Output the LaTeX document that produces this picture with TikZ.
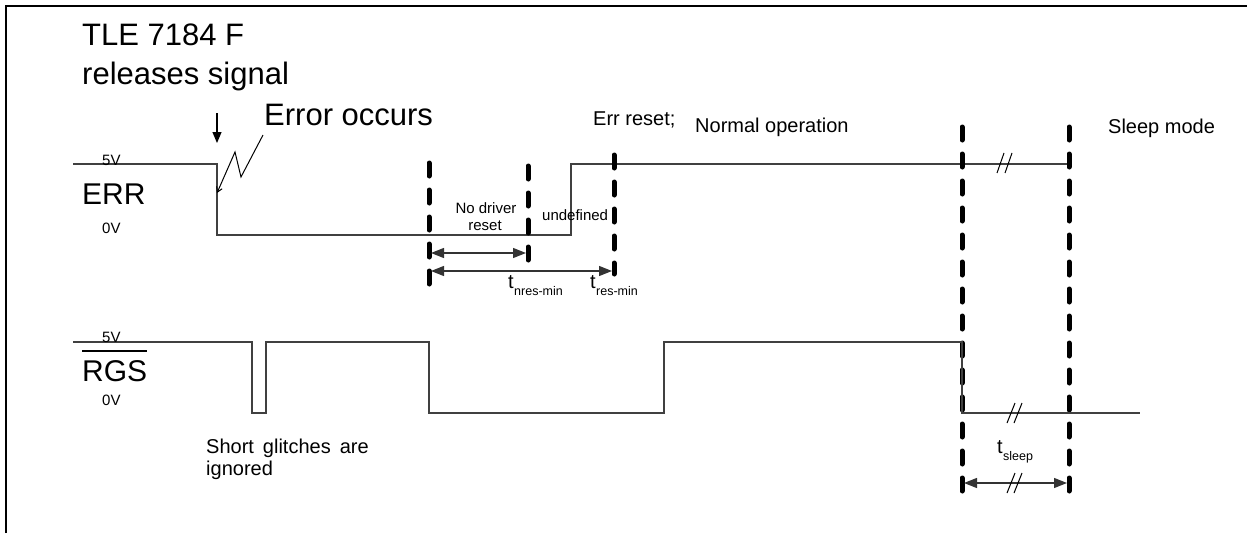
\documentclass[tikz,border=0pt]{standalone}
\usepackage{fontspec}
\setmainfont{Liberation Sans}
\usetikzlibrary{arrows.meta}
\begin{document}
\begin{tikzpicture}[x=1pt,y=-1pt,
  frame/.style={line width=2pt, draw=black},
  sig/.style={line width=1.4pt, draw=black!75},
  vdash/.style={line width=5pt, line cap=round, dash pattern=on 13pt off 14pt},
  dim/.style={line width=1.3pt, draw=black!80, {Triangle[length=13pt,width=10pt]}-{Triangle[length=13pt,width=10pt]}},
  slash/.style={line width=1pt},
  big/.style={font=\fontsize{31}{36}\selectfont, inner sep=0pt, anchor=base west},
  huge/.style={font=\fontsize{30}{36}\selectfont, inner sep=0pt, anchor=base west},
  med/.style={font=\fontsize{20}{23}\selectfont, inner sep=0pt, anchor=base west},
  sml/.style={font=\fontsize{15}{17}\selectfont, inner sep=0pt, anchor=base west},
  tiny/.style={font=\fontsize{12.5}{15}\selectfont, inner sep=0pt, anchor=base west}]
\useasboundingbox (0,0) rectangle (1247,533);
% frame
\draw[frame] (6,533) -- (6,6) -- (1247,6);

% headings
\node[big] (tle) at (82,45) {TLE 7184 F};
\node[big] (rel) at (82,84) {releases signal};
\node[big] (err) at (264,125) {Error occurs};
\node[med] (errreset) at (593,125) {Err reset;};
\node[med] (normal) at (695,132) {Normal operation};
\node[med] (sleep) at (1108,133) {Sleep mode};

% ERR signal
\coordinate (e0) at (73,164);
\coordinate (e1) at (217,164);
\coordinate (e2) at (217,235);
\coordinate (e3) at (571,235);
\coordinate (e4) at (571,164);
\coordinate (e5) at (1069,164);
\draw[sig] (e0) -- (e1) -- (e2) -- (e3) -- (e4) -- (e5);
\node[sml] (e5v) at (102,165) {5V};
\node[huge] (errlbl) at (82,204) {ERR};
\node[sml] (e0v) at (102,233) {0V};

% releases arrow
\coordinate (ra) at (217,113);
\coordinate (rb) at (217,143);
\draw[line width=1.2pt, -{Triangle[length=11pt,width=9pt]}] (ra) -- (rb);

% error lightning
\coordinate (z0) at (263,135);
\coordinate (z1) at (241,177);
\coordinate (z2) at (235,152);
\coordinate (z3) at (217,193);
\draw[line width=1pt, -{Straight Barb[length=5pt,width=6pt]}] (z0) -- (z1) -- (z2) -- (z3);

% dashed markers
\coordinate (a1) at (429,163); \coordinate (a2) at (429,290);
\coordinate (b1) at (528,166); \coordinate (b2) at (528,264);
\coordinate (c1) at (614,155); \coordinate (c2) at (614,274);
\coordinate (d1) at (962,127); \coordinate (d2) at (962,493);
\coordinate (f1) at (1069,127); \coordinate (f2) at (1069,493);
\draw[vdash] (a1) -- (a2);
\draw[vdash] (b1) -- (b2);
\draw[vdash] (c1) -- (c2);
\draw[vdash] (d1) -- (d2);
\draw[vdash] (f1) -- (f2);

% labels in window
\node[sml, anchor=base] (nod) at (486,213) {No driver};
\node[sml, anchor=base] (nodr) at (485,230) {reset};
\node[sml] (undef) at (542,220) {undefined};

% dimension arrows
\coordinate (da1) at (431,253); \coordinate (da2) at (526,253);
\coordinate (db1) at (431,271); \coordinate (db2) at (612,271);
\draw[dim] (da1) -- (da2);
\draw[dim] (db1) -- (db2);
\node[med] (tn) at (508,288) {t};
\node[tiny] (tnsub) at (514,295) {nres-min};
\node[med] (tr) at (590,288) {t};
\node[tiny] (trsub) at (596,295) {res-min};

% ERR slashes
\draw[slash] (997,173) -- (1004,153);
\draw[slash] (1005,173) -- (1012,153);

% RGS signal
\coordinate (r0) at (73,342);
\coordinate (r1) at (252,342);
\coordinate (r2) at (252,413);
\coordinate (r3) at (266,413);
\coordinate (r4) at (266,342);
\coordinate (r5) at (429,342);
\coordinate (r6) at (429,413);
\coordinate (r7) at (664,413);
\coordinate (r8) at (664,342);
\coordinate (r9) at (962,342);
\coordinate (r10) at (962,413);
\coordinate (r11) at (1140,413);
\draw[sig] (r0) -- (r1) -- (r2) -- (r3) -- (r4) -- (r5) -- (r6) -- (r7) -- (r8) -- (r9) -- (r10) -- (r11);
\node[sml] (r5v) at (102,342) {5V};
\node[huge] (rgslbl) at (82,381) {RGS};
\draw[line width=2pt] (rgslbl.west |- 0,351) -- (rgslbl.east |- 0,351);
\node[sml] (r0v) at (102,405) {0V};

\draw[slash] (1007,423) -- (1015,403);
\draw[slash] (1014,423) -- (1022,403);

\node[med] (glitch) at (206,453) {Short\hspace{0.45em}glitches\hspace{0.45em}are};
\node[med] (ign) at (206,475) {ignored};

% t_sleep
\node[med] (ts) at (997,453) {t};
\node[tiny] (tssub) at (1003,460) {sleep};
\coordinate (sa) at (964,483); \coordinate (sb) at (1067,483);
\draw[dim] (sa) -- (sb);
\draw[slash] (1007,493) -- (1015,473);
\draw[slash] (1014,493) -- (1022,473);
\end{tikzpicture}
\end{document}
